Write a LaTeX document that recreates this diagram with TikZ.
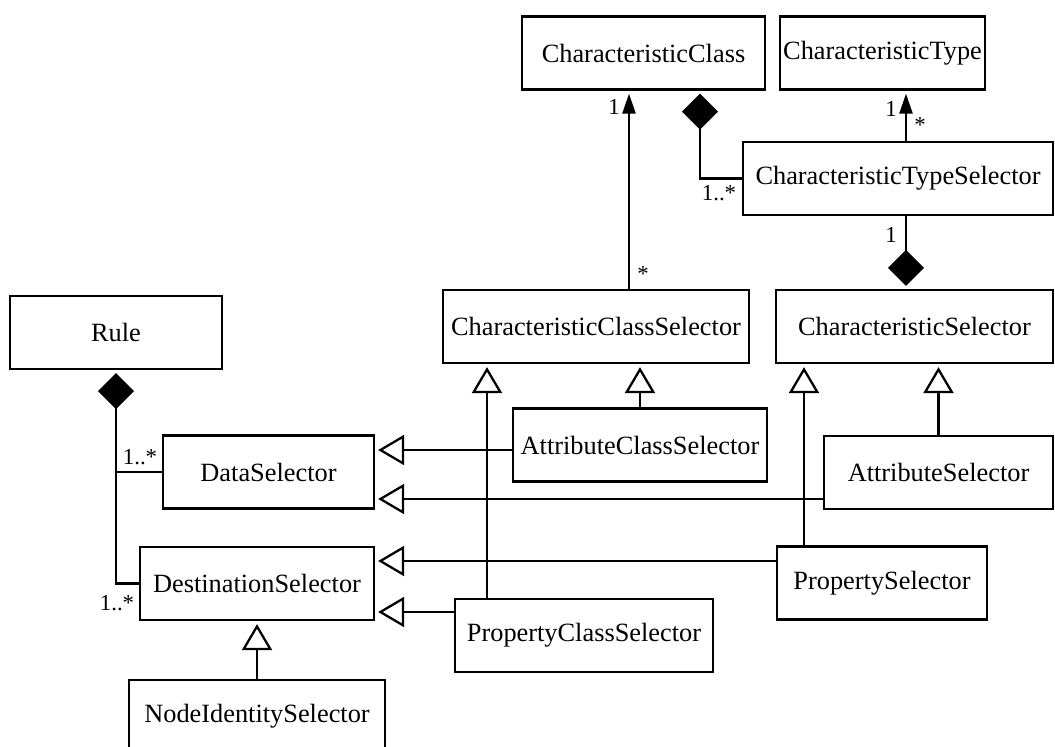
\documentclass[tikz,border=0pt]{standalone}
\usepackage{fontspec}
\setmainfont{Liberation Serif}
\usetikzlibrary{arrows.meta, calc}
\tikzstyle{uml_class} = [rectangle, minimum height=1.46cm, inner xsep=2pt, line width=1.3pt, text centered, draw=black, fill=white, font=\fontsize{15}{18}\selectfont]
\tikzstyle{mult} = [inner sep=0pt, font=\fontsize{13}{15}\selectfont]
\tikzstyle{line_plain} = [line width=1.3pt]
\tikzstyle{arrow_assoc} = [line width=1.3pt, shorten >=0.06cm, -{Triangle[length=0.4cm, width=0.26cm]}]
\tikzstyle{arrow_comp} = [line width=1.3pt, shorten >=0.06cm, -{Diamond[length=0.72cm, width=0.72cm]}]
\tikzstyle{arrow_gen} = [line width=1.3pt, shorten >=0.06cm, -{Triangle[open, length=0.52cm, width=0.6cm]}]

\begin{document}
\begin{tikzpicture}[x=0.02cm, y=-0.02cm]

	\useasboundingbox (0,0) rectangle (1055,747);

		\node (char_class) at (643.5,53) [uml_class, minimum width=4.86cm] {CharacteristicClass};

		\node (char_type) at (882.5,53) [uml_class, minimum width=3.98cm] {CharacteristicType};

		\node (char_type_sel) at (898,178.5) [uml_class, minimum width=6.2cm] {CharacteristicTypeSelector};

		\node (rule) at (116,332.5) [uml_class, minimum width=4.24cm] {Rule};

		\node (char_class_sel) at (596,326.5) [uml_class, minimum width=6.12cm] {CharacteristicClassSelector};

		\node (char_sel) at (914.5,326.5) [uml_class, minimum width=5.54cm] {CharacteristicSelector};

		\node (attr_class_sel) at (640,445) [uml_class, minimum width=5.08cm] {AttributeClassSelector};

		\node (attr_sel) at (938.5,472.5) [uml_class, minimum width=4.58cm] {AttributeSelector};

		\node (data_sel) at (268.5,472) [uml_class, minimum width=4.22cm] {DataSelector};

		\node (dest_sel) at (257,583.5) [uml_class, minimum width=4.68cm] {DestinationSelector};

		\node (prop_sel) at (882,583) [uml_class, minimum width=4.2cm] {PropertySelector};

		\node (prop_class_sel) at (584,635.5) [uml_class, minimum width=5.16cm] {PropertyClassSelector};

		\node (node_id_sel) at (257,716.5) [uml_class, minimum width=5.12cm] {NodeIdentitySelector};


		% Associations and compositions at the top
		\draw [arrow_assoc] (char_class_sel.north) ++(33,0) coordinate (a1) -- (a1 |- char_class.south);
		\draw [arrow_assoc] (char_type_sel.north) ++(8,0) coordinate (a2) -- (a2 |- char_type.south);
		\draw [arrow_comp] (char_type_sel.west) -| ($(char_class.south)+(56.5,0)$);
		\draw [arrow_comp] (char_type_sel.south) ++(8,0) coordinate (a3) -- (a3 |- char_sel.north);
		% -
		\draw [arrow_comp] (data_sel.west) -| (rule.south);
		\draw [line_plain] (dest_sel.west) -| (data_sel.west -| rule.south);

		% Generalizations
		\draw [arrow_gen] (attr_class_sel.north) -- (attr_class_sel.north |- char_class_sel.south);
		\draw [arrow_gen] (prop_class_sel.north) ++(-97,0) coordinate (g1) -- (g1 |- char_class_sel.south);
		\draw [arrow_gen] (attr_sel.north) -- (attr_sel.north |- char_sel.south);
		\draw [arrow_gen] (prop_sel.north) ++(-78,0) coordinate (g2) -- (g2 |- char_sel.south);
		% -
		\draw [arrow_gen] (attr_class_sel.west) ++(0,5) coordinate (g3) -- (g3 -| data_sel.east);
		\draw [arrow_gen] (attr_sel.west) ++(0,26.5) coordinate (g4) -- (g4 -| data_sel.east);
		\draw [arrow_gen] (prop_sel.west) ++(0,-22) coordinate (g5) -- (g5 -| dest_sel.east);
		\draw [arrow_gen] (prop_class_sel.west) ++(0,-23.5) coordinate (g6) -- (g6 -| dest_sel.east);
		\draw [arrow_gen] (node_id_sel.north) -- (dest_sel.south);

		% Multiplicities
		\node (m_cc_one) at (614,107) [mult] {1};
		\node (m_cc_many) at (643,274) [mult] {*};
		\node (m_ct_one) at (891,109) [mult] {1};
		\node (m_ct_many) at (920,125) [mult] {*};
		\node (m_cts_many) at (719,193) [mult] {1..*};
		\node (m_cts_one) at (891,235) [mult] {1};
		\node (m_data_many) at (140,457) [mult] {1..*};
		\node (m_dest_many) at (117,603) [mult] {1..*};

	\end{tikzpicture}
\end{document}
